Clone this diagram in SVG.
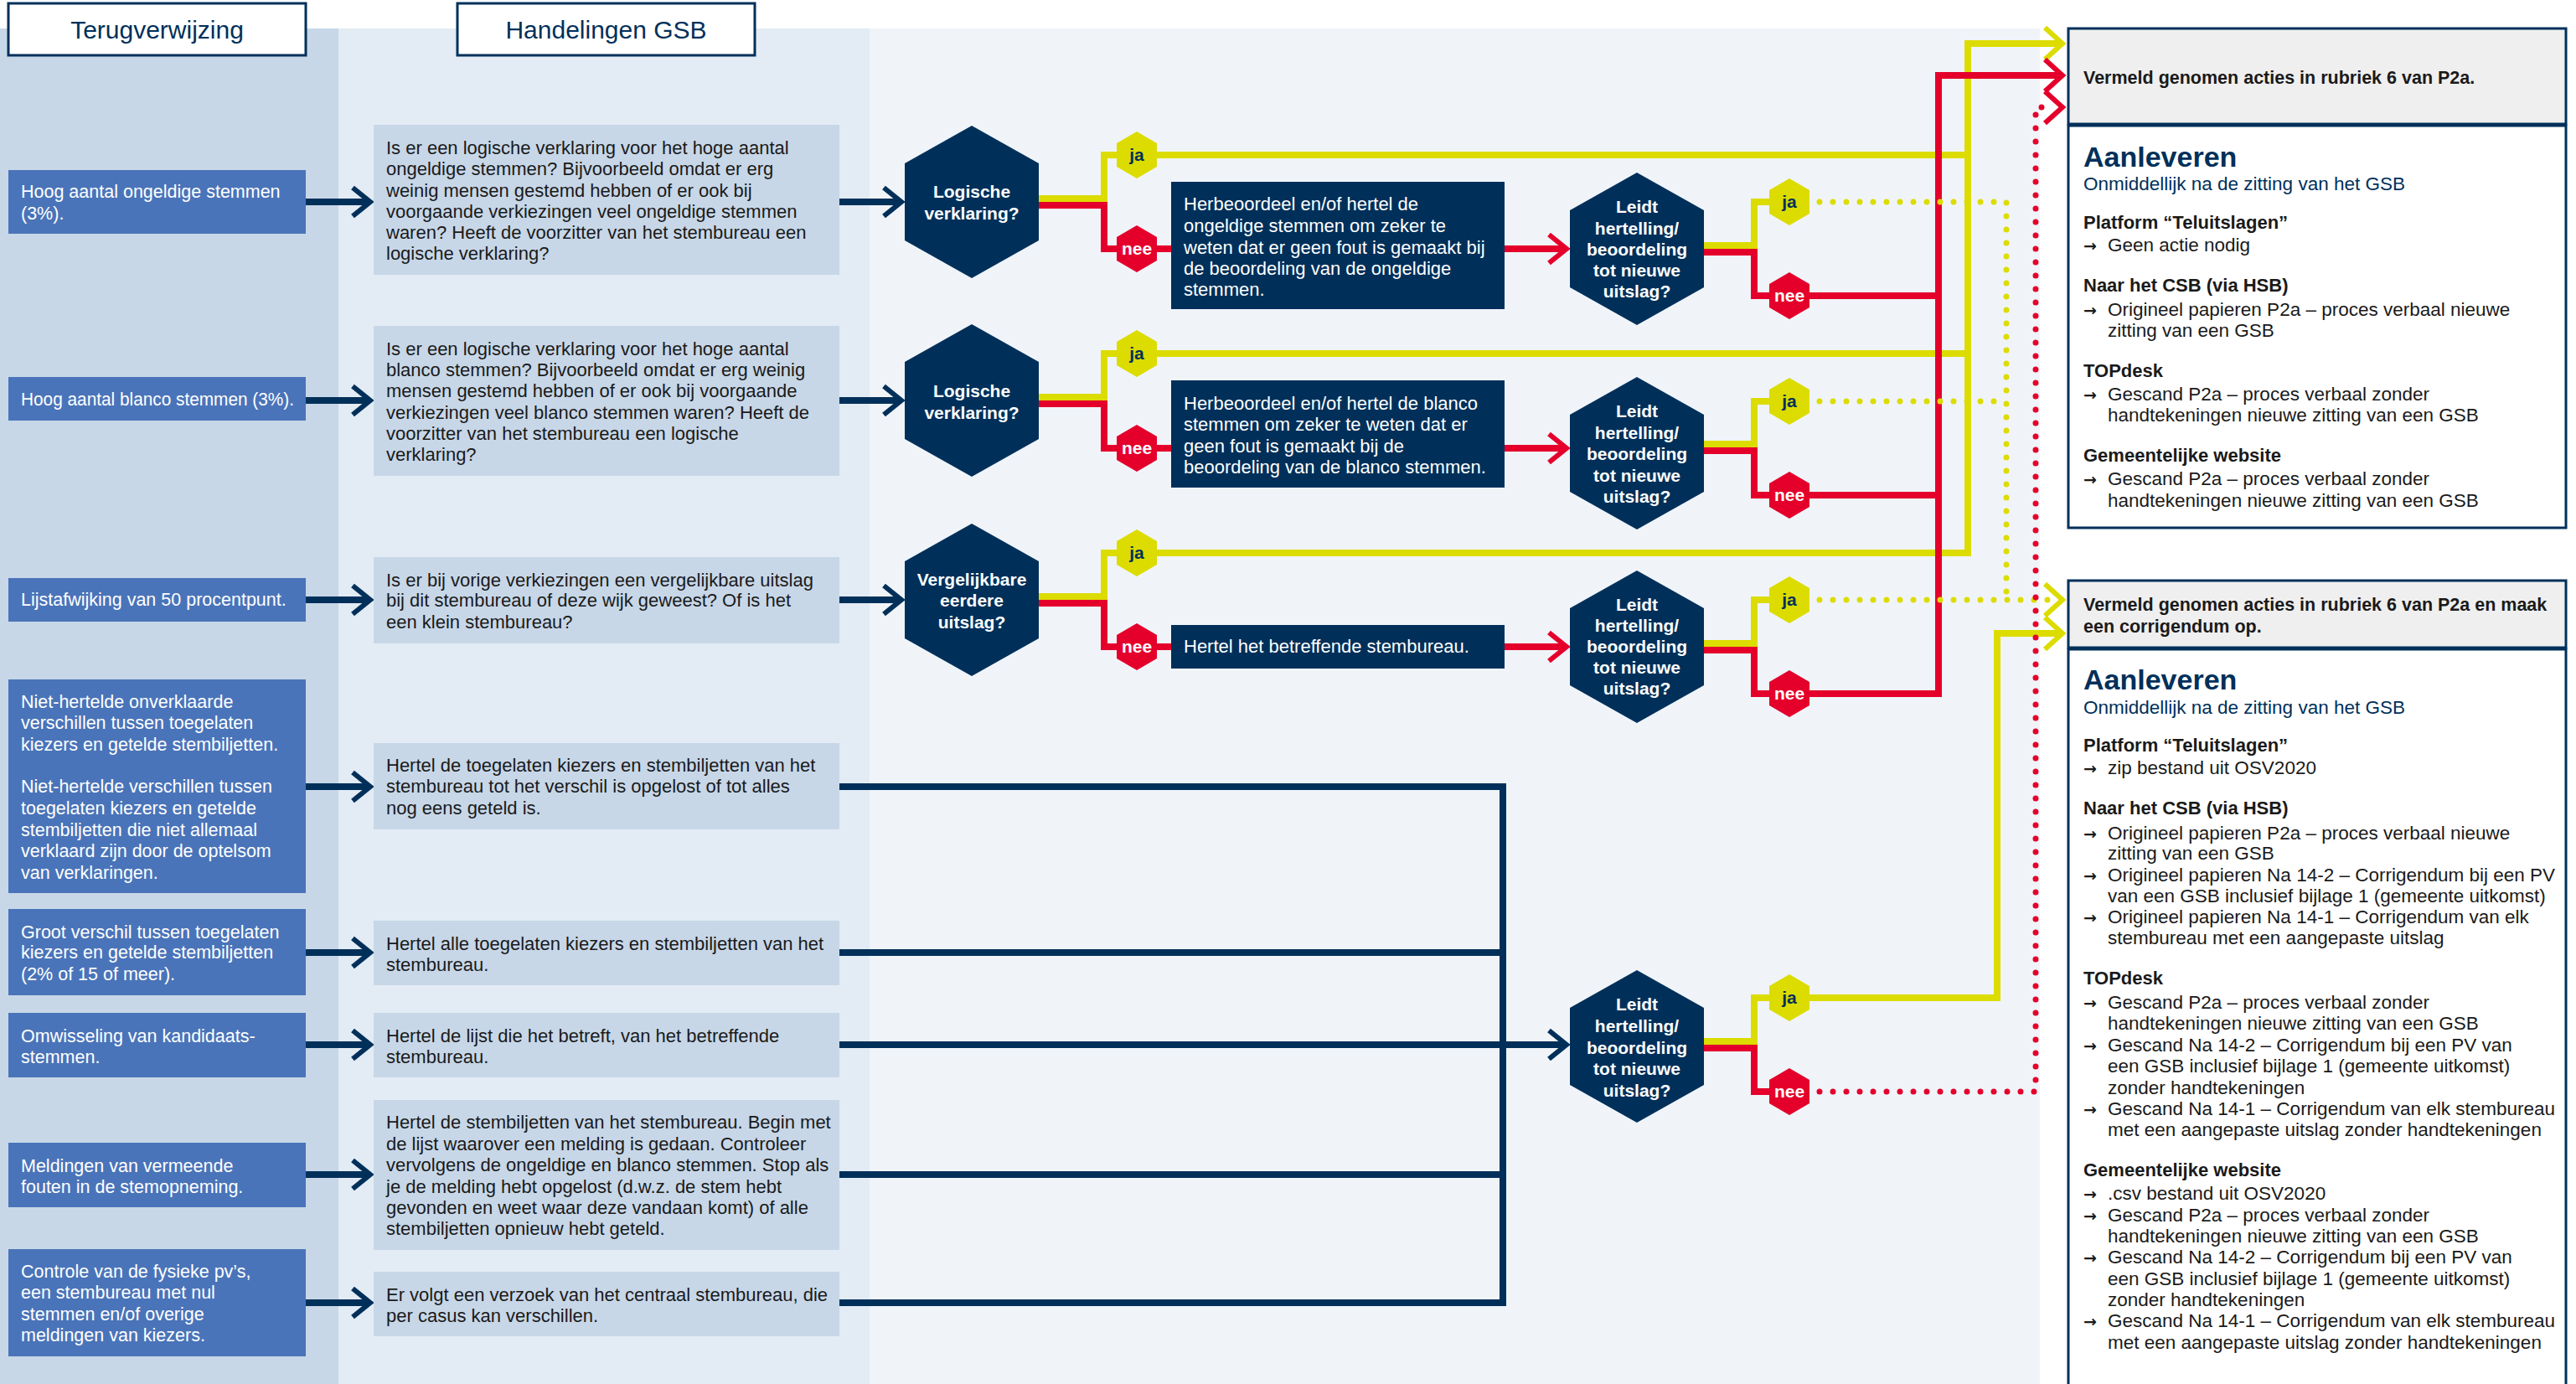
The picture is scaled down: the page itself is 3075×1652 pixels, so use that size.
<svg xmlns="http://www.w3.org/2000/svg" width="3075" height="1652" viewBox="0 0 3075 1652">
<style>
text{font-family:"Liberation Sans",Arial,sans-serif}
.w{font-size:22px;fill:#ffffff}
.w1{font-size:21.5px;fill:#ffffff}
.k{font-size:22px;fill:#1a1a1a}
.hx{font-size:21px;font-weight:bold;fill:#ffffff;text-anchor:middle}
.bj{font-size:21px;font-weight:bold;fill:#00305a;text-anchor:middle}
.bn{font-size:21px;font-weight:bold;fill:#ffffff;text-anchor:middle}
.hd{font-size:30px;fill:#00305a;text-anchor:middle}
.rh{font-size:21.5px;font-weight:bold;fill:#1a1a1a}
.ra{font-size:34px;font-weight:bold;fill:#00305a}
.rs{font-size:22.5px;fill:#00305a}
.rb{font-size:22px;font-weight:bold;fill:#1a1a1a}
.rt{font-size:22.5px;fill:#1a1a1a}
.ar{font-family:"DejaVu Sans",sans-serif;font-weight:bold;font-size:19px}
.b1{fill:#4a74b9}
.b2{fill:#c7d7e8}
.b3{fill:#00305a}
.hex{fill:#00305a}
.yj{fill:#dcdc00}
.rn{fill:#e4002b}
.nv{fill:none;stroke:#00305a;stroke-width:8}
.yl{fill:none;stroke:#dcdc00;stroke-width:8}
.rd{fill:none;stroke:#e4002b;stroke-width:8}
.yd{fill:none;stroke:#dcdc00;stroke-width:7;stroke-dasharray:0 16;stroke-linecap:round}
.rdd{fill:none;stroke:#e4002b;stroke-width:7;stroke-dasharray:0 16;stroke-linecap:round}
.cn{fill:none;stroke:#00305a;stroke-width:6}
.cy{fill:none;stroke:#dcdc00;stroke-width:6}
.cr{fill:none;stroke:#e4002b;stroke-width:6}
.hb{fill:#ffffff;stroke:#00305a;stroke-width:3}
.gh{fill:#efefef;stroke:#00305a;stroke-width:3}
.wb{fill:#ffffff;stroke:#00305a;stroke-width:3}
</style>
<defs>
<path id="chev" d="M-25,-17 L-4,0 L-25,17"/>
<path id="chevL" d="M-26,-19 L-5,0 L-26,19"/>
<polygon id="hexB" points="0,-91 80,-46 80,46 0,91 -80,46 -80,-46"/>
<polygon id="hexS" points="0,-28 24,-14 24,14 0,28 -24,14 -24,-14"/>
</defs>

<!-- backgrounds -->
<rect x="0" y="0" width="3075" height="1652" fill="#ffffff"/>
<rect x="0" y="34" width="404" height="1618" fill="#c7d7e8"/>
<rect x="404" y="34" width="634" height="1618" fill="#e3ebf4"/>
<rect x="1038" y="34" width="1397" height="1618" fill="#f0f4f9"/>

<g id="header-terugverwijzing">
<rect class="hb" x="10" y="4" width="355" height="62"/>
<text class="hd" x="187.5" y="46">Terugverwijzing</text>
</g>
<g id="header-handelingen">
<rect class="hb" x="546" y="4" width="355" height="62"/>
<text class="hd" x="723.5" y="46">Handelingen GSB</text>
</g>

<g id="connectors">
<!-- navy col1 -> col2 -->
<path class="nv" d="M365,241 H440 M365,478 H440 M365,716 H440 M365,939 H440 M365,1137 H440 M365,1247 H440 M365,1402 H440 M365,1555 H440"/>
<use href="#chev" class="cn" x="446" y="241"/>
<use href="#chev" class="cn" x="446" y="478"/>
<use href="#chev" class="cn" x="446" y="716"/>
<use href="#chev" class="cn" x="446" y="939"/>
<use href="#chev" class="cn" x="446" y="1137"/>
<use href="#chev" class="cn" x="446" y="1247"/>
<use href="#chev" class="cn" x="446" y="1402"/>
<use href="#chev" class="cn" x="446" y="1555"/>
<!-- navy col2 -> decisions -->
<path class="nv" d="M1002,241 H1074 M1002,478 H1074 M1002,716 H1074"/>
<use href="#chev" class="cn" x="1080" y="241"/>
<use href="#chev" class="cn" x="1080" y="478"/>
<use href="#chev" class="cn" x="1080" y="716"/>
<!-- navy bus -->
<path class="nv" d="M1002,939 H1794 V1555 H1002 M1002,1137 H1794 M1002,1402 H1794 M1002,1247 H1868"/>
<use href="#chev" class="cn" x="1874" y="1247"/>

<!-- yellow solid: decision ja -->
<path class="yl" d="M1239,237 H1318 V185 H2353"/>
<path class="yl" d="M1239,474 H1318 V422 H2353"/>
<path class="yl" d="M1239,712 H1318 V660 H2349 V52 H2461"/>
<use href="#chevL" class="cy" x="2467" y="52"/>
<!-- yellow solid stubs from Leidt -->
<path class="yl" d="M2034,293 H2094 V241 H2116"/>
<path class="yl" d="M2034,530 H2094 V479 H2116"/>
<path class="yl" d="M2034,768 H2094 V716 H2116"/>
<path class="yl" d="M2034,1243 H2094 V1191 H2384 V756 H2461"/>
<use href="#chevL" class="cy" x="2467" y="756"/>

<!-- red solid -->
<path class="rd" d="M1239,245 H1318 V297 H1400"/>
<path class="rd" d="M1239,482 H1318 V535 H1400"/>
<path class="rd" d="M1239,720 H1318 V772 H1400"/>
<path class="rd" d="M1796,297 H1868 M1796,535 H1868 M1796,772 H1868"/>
<use href="#chev" class="cr" x="1874" y="297"/>
<use href="#chev" class="cr" x="1874" y="535"/>
<use href="#chev" class="cr" x="1874" y="772"/>
<path class="rd" d="M2034,301 H2094 V353 H2318"/>
<path class="rd" d="M2034,538 H2094 V591 H2318"/>
<path class="rd" d="M2034,776 H2094 V828 H2314 V90 H2461"/>
<use href="#chevL" class="cr" x="2467" y="90"/>
<path class="rd" d="M2034,1251 H2094 V1303 H2116"/>

<!-- dotted -->
<path class="yd" d="M2172,241 H2395 V716"/>
<path class="yd" d="M2172,479 H2395"/>
<path class="yd" d="M2172,716 H2452"/>
<use href="#chevL" class="cy" x="2467" y="716"/>
<path class="rdd" d="M2172,1303 H2430 V128 H2448"/>
<use href="#chevL" class="cr" x="2467" y="128"/>
</g>

<!-- column 1 -->
<g id="ref-ongeldig">
<rect class="b1" x="10" y="203" width="355" height="76"/>
<text class="w1"><tspan x="25" y="236">Hoog aantal ongeldige stemmen</tspan><tspan x="25" y="262">(3%).</tspan></text>
</g>
<g id="ref-blanco">
<rect class="b1" x="10" y="450" width="355" height="52"/>
<text class="w1" x="25" y="484" textLength="326" lengthAdjust="spacingAndGlyphs">Hoog aantal blanco stemmen (3%).</text>
</g>
<g id="ref-lijst">
<rect class="b1" x="10" y="690" width="355" height="52"/>
<text class="w1" x="25" y="723">Lijstafwijking van 50 procentpunt.</text>
</g>
<g id="ref-niet-herteld">
<rect class="b1" x="10" y="811" width="355" height="255"/>
<text class="w1"><tspan x="25" y="845">Niet-hertelde onverklaarde</tspan><tspan x="25" y="870">verschillen tussen toegelaten</tspan><tspan x="25" y="896">kiezers en getelde stembiljetten.</tspan><tspan x="25" y="946">Niet-hertelde verschillen tussen</tspan><tspan x="25" y="972">toegelaten kiezers en getelde</tspan><tspan x="25" y="998">stembiljetten die niet allemaal</tspan><tspan x="25" y="1023">verklaard zijn door de optelsom</tspan><tspan x="25" y="1049">van verklaringen.</tspan></text>
</g>
<g id="ref-groot-verschil">
<rect class="b1" x="10" y="1085" width="355" height="103"/>
<text class="w1"><tspan x="25" y="1120">Groot verschil tussen toegelaten</tspan><tspan x="25" y="1144">kiezers en getelde stembiljetten</tspan><tspan x="25" y="1170">(2% of 15 of meer).</tspan></text>
</g>
<g id="ref-omwisseling">
<rect class="b1" x="10" y="1209" width="355" height="77"/>
<text class="w1"><tspan x="25" y="1244">Omwisseling van kandidaats-</tspan><tspan x="25" y="1269">stemmen.</tspan></text>
</g>
<g id="ref-meldingen">
<rect class="b1" x="10" y="1364" width="355" height="77"/>
<text class="w1"><tspan x="25" y="1399">Meldingen van vermeende</tspan><tspan x="25" y="1424">fouten in de stemopneming.</tspan></text>
</g>
<g id="ref-controle">
<rect class="b1" x="10" y="1491" width="355" height="128"/>
<text class="w1"><tspan x="25" y="1525">Controle van de fysieke pv’s,</tspan><tspan x="25" y="1550">een stembureau met nul</tspan><tspan x="25" y="1576">stemmen en/of overige</tspan><tspan x="25" y="1601">meldingen van kiezers.</tspan></text>
</g>

<!-- column 2 -->
<g id="act-ongeldig">
<rect class="b2" x="446" y="149" width="556" height="179"/>
<text class="k"><tspan x="461" y="184">Is er een logische verklaring voor het hoge aantal</tspan><tspan x="461" y="209">ongeldige stemmen? Bijvoorbeeld omdat er erg</tspan><tspan x="461" y="235">weinig mensen gestemd hebben of er ook bij</tspan><tspan x="461" y="260">voorgaande verkiezingen veel ongeldige stemmen</tspan><tspan x="461" y="285">waren? Heeft de voorzitter van het stembureau een</tspan><tspan x="461" y="310">logische verklaring?</tspan></text>
</g>
<g id="act-blanco">
<rect class="b2" x="446" y="389" width="556" height="179"/>
<text class="k"><tspan x="461" y="424">Is er een logische verklaring voor het hoge aantal</tspan><tspan x="461" y="449">blanco stemmen? Bijvoorbeeld omdat er erg weinig</tspan><tspan x="461" y="474">mensen gestemd hebben of er ook bij voorgaande</tspan><tspan x="461" y="500">verkiezingen veel blanco stemmen waren? Heeft de</tspan><tspan x="461" y="525">voorzitter van het stembureau een logische</tspan><tspan x="461" y="550">verklaring?</tspan></text>
</g>
<g id="act-lijst">
<rect class="b2" x="446" y="665" width="556" height="103"/>
<text class="k"><tspan x="461" y="700">Is er bij vorige verkiezingen een vergelijkbare uitslag</tspan><tspan x="461" y="724">bij dit stembureau of deze wijk geweest? Of is het</tspan><tspan x="461" y="750">een klein stembureau?</tspan></text>
</g>
<g id="act-hertel-toegelaten">
<rect class="b2" x="446" y="887" width="556" height="103"/>
<text class="k"><tspan x="461" y="921">Hertel de toegelaten kiezers en stembiljetten van het</tspan><tspan x="461" y="946">stembureau tot het verschil is opgelost of tot alles</tspan><tspan x="461" y="972">nog eens geteld is.</tspan></text>
</g>
<g id="act-hertel-alle">
<rect class="b2" x="446" y="1099" width="556" height="77"/>
<text class="k"><tspan x="461" y="1134">Hertel alle toegelaten kiezers en stembiljetten van het</tspan><tspan x="461" y="1159">stembureau.</tspan></text>
</g>
<g id="act-hertel-lijst">
<rect class="b2" x="446" y="1209" width="556" height="77"/>
<text class="k"><tspan x="461" y="1244">Hertel de lijst die het betreft, van het betreffende</tspan><tspan x="461" y="1269">stembureau.</tspan></text>
</g>
<g id="act-hertel-stembiljetten">
<rect class="b2" x="446" y="1313" width="556" height="179"/>
<text class="k"><tspan x="461" y="1347">Hertel de stembiljetten van het stembureau. Begin met</tspan><tspan x="461" y="1373">de lijst waarover een melding is gedaan. Controleer</tspan><tspan x="461" y="1398">vervolgens de ongeldige en blanco stemmen. Stop als</tspan><tspan x="461" y="1424">je de melding hebt opgelost (d.w.z. de stem hebt</tspan><tspan x="461" y="1449">gevonden en weet waar deze vandaan komt) of alle</tspan><tspan x="461" y="1474">stembiljetten opnieuw hebt geteld.</tspan></text>
</g>
<g id="act-verzoek">
<rect class="b2" x="446" y="1518" width="556" height="77"/>
<text class="k"><tspan x="461" y="1553">Er volgt een verzoek van het centraal stembureau, die</tspan><tspan x="461" y="1578">per casus kan verschillen.</tspan></text>
</g>

<!-- decisions -->
<g id="dec-logisch-1">
<use href="#hexB" class="hex" x="1160" y="241"/>
<text class="hx"><tspan x="1160" y="236">Logische</tspan><tspan x="1160" y="262">verklaring?</tspan></text>
</g>
<g id="dec-logisch-2">
<use href="#hexB" class="hex" x="1160" y="478"/>
<text class="hx"><tspan x="1160" y="474">Logische</tspan><tspan x="1160" y="500">verklaring?</tspan></text>
</g>
<g id="dec-vergelijkbaar">
<use href="#hexB" class="hex" x="1160" y="716"/>
<text class="hx"><tspan x="1160" y="699">Vergelijkbare</tspan><tspan x="1160" y="724">eerdere</tspan><tspan x="1160" y="750">uitslag?</tspan></text>
</g>

<!-- badges on decisions -->
<g id="ja-1"><use href="#hexS" class="yj" x="1357" y="185"/><text class="bj" x="1357" y="192">ja</text></g>
<g id="nee-1"><use href="#hexS" class="rn" x="1357" y="297"/><text class="bn" x="1357" y="304">nee</text></g>
<g id="ja-2"><use href="#hexS" class="yj" x="1357" y="422"/><text class="bj" x="1357" y="429">ja</text></g>
<g id="nee-2"><use href="#hexS" class="rn" x="1357" y="535"/><text class="bn" x="1357" y="542">nee</text></g>
<g id="ja-3"><use href="#hexS" class="yj" x="1357" y="660"/><text class="bj" x="1357" y="667">ja</text></g>
<g id="nee-3"><use href="#hexS" class="rn" x="1357" y="772"/><text class="bn" x="1357" y="779">nee</text></g>

<!-- dark action boxes -->
<g id="herbeoordeel-ongeldig">
<rect class="b3" x="1398" y="217" width="398" height="152"/>
<text class="w"><tspan x="1413" y="251">Herbeoordeel en/of hertel de</tspan><tspan x="1413" y="277">ongeldige stemmen om zeker te</tspan><tspan x="1413" y="303">weten dat er geen fout is gemaakt bij</tspan><tspan x="1413" y="328">de beoordeling van de ongeldige</tspan><tspan x="1413" y="353">stemmen.</tspan></text>
</g>
<g id="herbeoordeel-blanco">
<rect class="b3" x="1398" y="454" width="398" height="128"/>
<text class="w"><tspan x="1413" y="489">Herbeoordeel en/of hertel de blanco</tspan><tspan x="1413" y="514">stemmen om zeker te weten dat er</tspan><tspan x="1413" y="540">geen fout is gemaakt bij de</tspan><tspan x="1413" y="565">beoordeling van de blanco stemmen.</tspan></text>
</g>
<g id="hertel-betreffende">
<rect class="b3" x="1398" y="746" width="398" height="52"/>
<text class="w" x="1413" y="779">Hertel het betreffende stembureau.</text>
</g>

<!-- Leidt decisions -->
<g id="leidt-1">
<use href="#hexB" class="hex" x="1954" y="297"/>
<text class="hx"><tspan x="1954" y="254">Leidt</tspan><tspan x="1954" y="280">hertelling/</tspan><tspan x="1954" y="305">beoordeling</tspan><tspan x="1954" y="330">tot nieuwe</tspan><tspan x="1954" y="355">uitslag?</tspan></text>
</g>
<g id="leidt-2">
<use href="#hexB" class="hex" x="1954" y="541"/>
<text class="hx"><tspan x="1954" y="498">Leidt</tspan><tspan x="1954" y="524">hertelling/</tspan><tspan x="1954" y="549">beoordeling</tspan><tspan x="1954" y="575">tot nieuwe</tspan><tspan x="1954" y="600">uitslag?</tspan></text>
</g>
<g id="leidt-3">
<use href="#hexB" class="hex" x="1954" y="772"/>
<text class="hx"><tspan x="1954" y="729">Leidt</tspan><tspan x="1954" y="754">hertelling/</tspan><tspan x="1954" y="779">beoordeling</tspan><tspan x="1954" y="804">tot nieuwe</tspan><tspan x="1954" y="829">uitslag?</tspan></text>
</g>
<g id="leidt-4">
<use href="#hexB" class="hex" x="1954" y="1249"/>
<text class="hx"><tspan x="1954" y="1206">Leidt</tspan><tspan x="1954" y="1232">hertelling/</tspan><tspan x="1954" y="1258">beoordeling</tspan><tspan x="1954" y="1283">tot nieuwe</tspan><tspan x="1954" y="1309">uitslag?</tspan></text>
</g>

<!-- badges on Leidt -->
<g id="ja-l1"><use href="#hexS" class="yj" x="2136" y="241"/><text class="bj" x="2136" y="248">ja</text></g>
<g id="nee-l1"><use href="#hexS" class="rn" x="2136" y="353"/><text class="bn" x="2136" y="360">nee</text></g>
<g id="ja-l2"><use href="#hexS" class="yj" x="2136" y="479"/><text class="bj" x="2136" y="486">ja</text></g>
<g id="nee-l2"><use href="#hexS" class="rn" x="2136" y="591"/><text class="bn" x="2136" y="598">nee</text></g>
<g id="ja-l3"><use href="#hexS" class="yj" x="2136" y="716"/><text class="bj" x="2136" y="723">ja</text></g>
<g id="nee-l3"><use href="#hexS" class="rn" x="2136" y="828"/><text class="bn" x="2136" y="835">nee</text></g>
<g id="ja-l4"><use href="#hexS" class="yj" x="2136" y="1191"/><text class="bj" x="2136" y="1198">ja</text></g>
<g id="nee-l4"><use href="#hexS" class="rn" x="2136" y="1303"/><text class="bn" x="2136" y="1310">nee</text></g>

<!-- result box 1 -->
<g id="result-1">
<rect class="wb" x="2469" y="150" width="594" height="480"/>
<rect class="gh" x="2469" y="34" width="594" height="114"/>
<text class="rh" x="2487" y="100">Vermeld genomen acties in rubriek 6 van P2a.</text>
<text class="ra" x="2487" y="199">Aanleveren</text>
<text class="rs" x="2487" y="227">Onmiddellijk na de zitting van het GSB</text>
<text class="rb" x="2487" y="273">Platform “Teluitslagen”</text>
<text class="rt"><tspan class="ar" x="2487" y="300">→</tspan><tspan x="2516" y="300">Geen actie nodig</tspan></text>
<text class="rb" x="2487" y="348">Naar het CSB (via HSB)</text>
<text class="rt"><tspan class="ar" x="2487" y="377">→</tspan><tspan x="2516" y="377">Origineel papieren P2a – proces verbaal nieuwe</tspan><tspan x="2516" y="402">zitting van een GSB</tspan></text>
<text class="rb" x="2487" y="450">TOPdesk</text>
<text class="rt"><tspan class="ar" x="2487" y="478">→</tspan><tspan x="2516" y="478">Gescand P2a – proces verbaal zonder</tspan><tspan x="2516" y="503">handtekeningen nieuwe zitting van een GSB</tspan></text>
<text class="rb" x="2487" y="551">Gemeentelijke website</text>
<text class="rt"><tspan class="ar" x="2487" y="579">→</tspan><tspan x="2516" y="579">Gescand P2a – proces verbaal zonder</tspan><tspan x="2516" y="605">handtekeningen nieuwe zitting van een GSB</tspan></text>
</g>

<!-- result box 2 -->
<g id="result-2">
<rect class="wb" x="2469" y="775" width="594" height="890"/>
<rect class="gh" x="2469" y="693" width="594" height="80"/>
<text class="rh"><tspan x="2487" y="729">Vermeld genomen acties in rubriek 6 van P2a en maak</tspan><tspan x="2487" y="755">een corrigendum op.</tspan></text>
<text class="ra" x="2487" y="823">Aanleveren</text>
<text class="rs" x="2487" y="852">Onmiddellijk na de zitting van het GSB</text>
<text class="rb" x="2487" y="897">Platform “Teluitslagen”</text>
<text class="rt"><tspan class="ar" x="2487" y="924">→</tspan><tspan x="2516" y="924">zip bestand uit OSV2020</tspan></text>
<text class="rb" x="2487" y="972">Naar het CSB (via HSB)</text>
<text class="rt"><tspan class="ar" x="2487" y="1002">→</tspan><tspan x="2516" y="1002">Origineel papieren P2a – proces verbaal nieuwe</tspan><tspan x="2516" y="1026">zitting van een GSB</tspan><tspan class="ar" x="2487" y="1052">→</tspan><tspan x="2516" y="1052">Origineel papieren Na 14-2 – Corrigendum bij een PV</tspan><tspan x="2516" y="1077">van een GSB inclusief bijlage 1 (gemeente uitkomst)</tspan><tspan class="ar" x="2487" y="1102">→</tspan><tspan x="2516" y="1102">Origineel papieren Na 14-1 – Corrigendum van elk</tspan><tspan x="2516" y="1127">stembureau met een aangepaste uitslag</tspan></text>
<text class="rb" x="2487" y="1175">TOPdesk</text>
<text class="rt"><tspan class="ar" x="2487" y="1204">→</tspan><tspan x="2516" y="1204">Gescand P2a – proces verbaal zonder</tspan><tspan x="2516" y="1229">handtekeningen nieuwe zitting van een GSB</tspan><tspan class="ar" x="2487" y="1255">→</tspan><tspan x="2516" y="1255">Gescand Na 14-2 – Corrigendum bij een PV van</tspan><tspan x="2516" y="1280">een GSB inclusief bijlage 1 (gemeente uitkomst)</tspan><tspan x="2516" y="1306">zonder handtekeningen</tspan><tspan class="ar" x="2487" y="1331">→</tspan><tspan x="2516" y="1331">Gescand Na 14-1 – Corrigendum van elk stembureau</tspan><tspan x="2516" y="1356">met een aangepaste uitslag zonder handtekeningen</tspan></text>
<text class="rb" x="2487" y="1404">Gemeentelijke website</text>
<text class="rt"><tspan class="ar" x="2487" y="1432">→</tspan><tspan x="2516" y="1432">.csv bestand uit OSV2020</tspan><tspan class="ar" x="2487" y="1458">→</tspan><tspan x="2516" y="1458">Gescand P2a – proces verbaal zonder</tspan><tspan x="2516" y="1483">handtekeningen nieuwe zitting van een GSB</tspan><tspan class="ar" x="2487" y="1508">→</tspan><tspan x="2516" y="1508">Gescand Na 14-2 – Corrigendum bij een PV van</tspan><tspan x="2516" y="1534">een GSB inclusief bijlage 1 (gemeente uitkomst)</tspan><tspan x="2516" y="1559">zonder handtekeningen</tspan><tspan class="ar" x="2487" y="1584">→</tspan><tspan x="2516" y="1584">Gescand Na 14-1 – Corrigendum van elk stembureau</tspan><tspan x="2516" y="1610">met een aangepaste uitslag zonder handtekeningen</tspan></text>
</g>
</svg>
